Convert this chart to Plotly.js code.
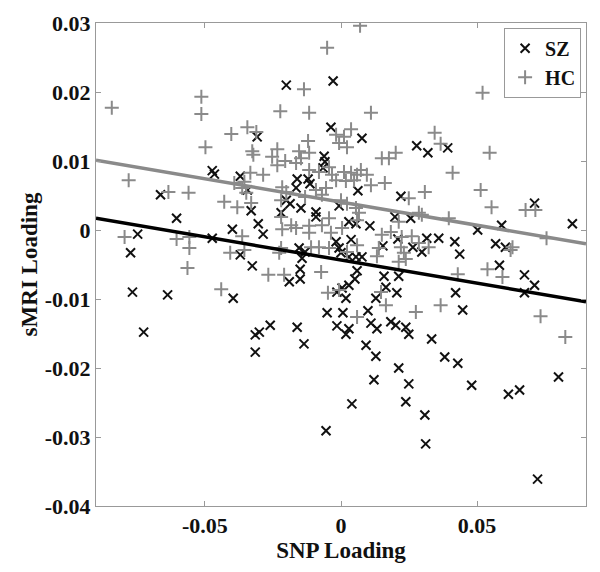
<!DOCTYPE html>
<html>
<head>
<meta charset="utf-8">
<script src="https://cdn.plot.ly/plotly-3.0.1.min.js"></script>
<style>html,body{margin:0;padding:0;background:#fff;}#chart{width:600px;height:572px;}</style>
</head>
<body>
<div id="chart"></div>
<script>
// SZ (x markers) - SNP loading
const szX = [-0.0201,-0.0029,-0.0037,-0.0308,0.0077,0.0278,0.0319,0.0392,-0.0062,-0.0059,
-0.0066,-0.0473,-0.0465,-0.0370,-0.0161,-0.0121,-0.0114,-0.0165,-0.0344,0.0062,
-0.0663,0.0220,0.0711,-0.0201,-0.0187,-0.0147,-0.0007,-0.0330,-0.0220,-0.0092,
-0.0092,-0.0604,0.0198,0.0256,0.0029,0.0055,0.0106,0.0590,0.0850,-0.0304,
-0.0399,0.0502,-0.0286,-0.0747,-0.0473,0.0037,0.0315,0.0359,0.0209,0.0418,
-0.0018,0.0154,0.0264,0.0568,0.0604,-0.0154,-0.0132,-0.0007,-0.0773,-0.0370,
0.0000,0.0029,0.0055,0.0077,0.0297,0.0436,-0.0143,0.0582,-0.0326,-0.0150,
0.0059,0.0674,0.0158,0.0212,-0.0150,0.0051,-0.0190,0.0711,0.0029,0.0004,
0.0165,0.0674,-0.0766,-0.0637,-0.0015,-0.0396,0.0205,0.0421,0.0128,0.0018,
0.0447,0.0099,0.0007,-0.0051,-0.0260,-0.0161,-0.0015,0.0183,0.0201,0.0238,
0.0249,0.0110,0.0132,0.0029,-0.0315,-0.0300,0.0018,-0.0725,0.0333,-0.0136,
0.0092,-0.0315,0.0128,0.0381,0.0429,0.0212,0.0121,0.0799,0.0249,0.0480,
0.0656,0.0615,0.0238,0.0040,0.0308,-0.0055,0.0311,0.0722];
// SZ - sMRI loading
const szY = [0.0210,0.0216,0.0149,0.0135,0.0133,0.0122,0.0112,0.0119,0.0107,0.0099,
0.0090,0.0086,0.0081,0.0078,0.0074,0.0074,0.0067,0.0061,0.0058,0.0057,
0.0051,0.0049,0.0039,0.0043,0.0038,0.0032,0.0035,0.0028,0.0025,0.0026,
0.0019,0.0017,0.0019,0.0017,0.0012,0.0009,0.0006,0.0007,0.0009,0.0009,
0.0001,0.0000,-0.0006,-0.0006,-0.0012,-0.0014,-0.0012,-0.0012,-0.0013,-0.0017,
-0.0017,-0.0023,-0.0025,-0.0020,-0.0025,-0.0026,-0.0032,-0.0026,-0.0033,-0.0036,
-0.0033,-0.0039,-0.0039,-0.0039,-0.0032,-0.0035,-0.0041,-0.0051,-0.0052,-0.0057,
-0.0059,-0.0065,-0.0067,-0.0067,-0.0071,-0.0071,-0.0075,-0.0080,-0.0080,-0.0084,
-0.0083,-0.0091,-0.0090,-0.0094,-0.0090,-0.0099,-0.0091,-0.0091,-0.0099,-0.0099,
-0.0116,-0.0117,-0.0120,-0.0120,-0.0138,-0.0141,-0.0139,-0.0133,-0.0138,-0.0141,
-0.0151,-0.0135,-0.0143,-0.0143,-0.0152,-0.0148,-0.0151,-0.0148,-0.0158,-0.0165,
-0.0167,-0.0177,-0.0183,-0.0184,-0.0193,-0.0200,-0.0217,-0.0213,-0.0223,-0.0225,
-0.0232,-0.0238,-0.0249,-0.0252,-0.0268,-0.0291,-0.0310,-0.0361];

// HC (+ markers)
const hcX = [0.0070,-0.0051,0.0520,-0.0513,-0.0842,-0.0513,-0.0136,-0.0223,-0.0117,0.0110,
-0.0344,-0.0311,-0.0403,0.0037,0.0344,-0.0018,0.0011,-0.0121,-0.0007,0.0022,
0.0366,-0.0498,-0.0234,-0.0326,-0.0322,-0.0154,-0.0117,-0.0147,-0.0253,0.0150,
0.0176,0.0201,0.0546,-0.0234,-0.0205,-0.0165,-0.0333,-0.0286,-0.0117,-0.0081,
-0.0044,-0.0033,0.0011,0.0037,0.0059,0.0073,0.0095,0.0410,-0.0018,0.0018,
0.0048,-0.0780,-0.0392,-0.0355,-0.0363,0.0161,0.0110,-0.0216,-0.0201,-0.0092,
-0.0070,-0.0055,-0.0634,-0.0560,-0.0348,0.0308,0.0513,0.0249,-0.0132,-0.0429,
-0.0220,-0.0330,-0.0381,0.0000,0.0022,0.0055,0.0553,0.0678,0.0714,0.0066,
0.0286,0.0297,0.0396,-0.0044,0.0059,0.0212,-0.0220,-0.0183,-0.0165,-0.0216,
-0.0117,-0.0070,0.0004,-0.0117,-0.0037,-0.0795,-0.0604,-0.0557,-0.0557,-0.0363,
0.0150,0.0183,0.0223,0.0260,0.0755,-0.0407,-0.0355,-0.0227,-0.0220,-0.0110,
-0.0081,-0.0044,0.0059,0.0139,0.0220,0.0286,0.0322,0.0630,0.0022,0.0132,
0.0231,0.0238,0.0623,-0.0564,-0.0267,-0.0209,-0.0073,0.0429,0.0538,0.0593,
-0.0440,-0.0048,-0.0007,0.0147,0.0165,0.0275,0.0366,0.0059,0.0733,0.0824,
0.0212];
const hcY = [0.0296,0.0264,0.0199,0.0193,0.0177,0.0168,0.0204,0.0172,0.0170,0.0170,
0.0149,0.0142,0.0139,0.0146,0.0141,0.0138,0.0135,0.0129,0.0126,0.0120,
0.0125,0.0120,0.0117,0.0114,0.0109,0.0114,0.0112,0.0104,0.0106,0.0104,
0.0104,0.0112,0.0112,0.0094,0.0100,0.0097,0.0083,0.0080,0.0087,0.0084,
0.0091,0.0080,0.0084,0.0083,0.0080,0.0087,0.0080,0.0083,0.0072,0.0071,
0.0072,0.0072,0.0068,0.0070,0.0061,0.0068,0.0065,0.0062,0.0055,0.0058,
0.0051,0.0061,0.0055,0.0054,0.0054,0.0055,0.0058,0.0046,0.0048,0.0041,
0.0043,0.0039,0.0033,0.0043,0.0038,0.0032,0.0033,0.0029,0.0029,0.0025,
0.0025,0.0022,0.0017,0.0017,0.0014,0.0012,0.0019,0.0007,0.0003,0.0001,
0.0006,0.0007,0.0003,-0.0004,-0.0004,-0.0010,-0.0013,-0.0010,-0.0026,-0.0009,
-0.0007,-0.0003,-0.0010,-0.0009,-0.0012,-0.0033,-0.0029,-0.0033,-0.0026,-0.0025,
-0.0025,-0.0026,-0.0022,-0.0026,-0.0025,-0.0019,-0.0025,-0.0025,-0.0032,-0.0038,
-0.0033,-0.0042,-0.0029,-0.0055,-0.0065,-0.0065,-0.0061,-0.0064,-0.0057,-0.0068,
-0.0086,-0.0091,-0.0087,-0.0090,-0.0109,-0.0119,-0.0109,-0.0126,-0.0125,-0.0155,
-0.0046];

// regression fit lines (endpoints across the x range)
const fitX = [-0.09, 0.09];
const szFit = [0.0017, -0.0104];
const hcFit = [0.0101, -0.0020];

// tick labels
const xTickVals = [-0.05, 0, 0.05];
const xTickText = ['-0.05', '0', '0.05'];
const yTickVals = [0.03, 0.02, 0.01, 0, -0.01, -0.02, -0.03, -0.04];
const yTickText = ['0.03', '0.02', '0.01', '0', '-0.01', '-0.02', '-0.03', '-0.04'];

const serif = '"Liberation Serif", "Times New Roman", serif';

const traces = [
  {x: szX, y: szY, type: 'scatter', mode: 'markers', name: 'SZ',
   marker: {symbol: 'x-thin-open', size: 9, color: '#111', line: {color: '#111', width: 2}}},
  {x: hcX, y: hcY, type: 'scatter', mode: 'markers', name: 'HC',
   marker: {symbol: 'cross-thin-open', size: 10, color: '#8a8a8a', line: {color: '#8a8a8a', width: 2}}},
  {x: fitX, y: hcFit, type: 'scatter', mode: 'lines', showlegend: false,
   line: {color: '#8a8a8a', width: 3.5}, hoverinfo: 'skip'},
  {x: fitX, y: szFit, type: 'scatter', mode: 'lines', showlegend: false,
   line: {color: '#000', width: 3.5}, hoverinfo: 'skip'}
];

const axisCommon = {
  showgrid: false, zeroline: false, showline: true, linecolor: '#999', linewidth: 1,
  mirror: 'ticks', ticks: 'inside', ticklen: 5, tickcolor: '#999',
  tickfont: {family: serif, size: 22, color: '#111', weight: 'bold'}
};

const layout = {
  width: 600, height: 572,
  margin: {l: 96, r: 14, t: 23, b: 66},
  paper_bgcolor: '#fff', plot_bgcolor: '#fff',
  font: {family: serif, color: '#111'},
  xaxis: Object.assign({}, axisCommon, {
    range: [-0.09, 0.09], tickvals: xTickVals, ticktext: xTickText,
    title: {text: '<b>SNP Loading</b>', font: {family: serif, size: 23, color: '#111'}, standoff: 0}
  }),
  yaxis: Object.assign({}, axisCommon, {
    range: [-0.04, 0.03], tickvals: yTickVals, ticktext: yTickText,
    title: {text: '<b>sMRI Loading</b>', font: {family: serif, size: 23, color: '#111'}, standoff: 0}
  }),
  legend: {
    x: 0.99, y: 0.99, xanchor: 'right', yanchor: 'top',
    bgcolor: '#fff', bordercolor: '#999', borderwidth: 1,
    font: {family: serif, size: 20, color: '#111', weight: 'bold'},
    itemwidth: 30, tracegroupgap: 0
  },
  showlegend: true
};

Plotly.newPlot('chart', traces, layout, {staticPlot: true, displayModeBar: false});
</script>
</body>
</html>
